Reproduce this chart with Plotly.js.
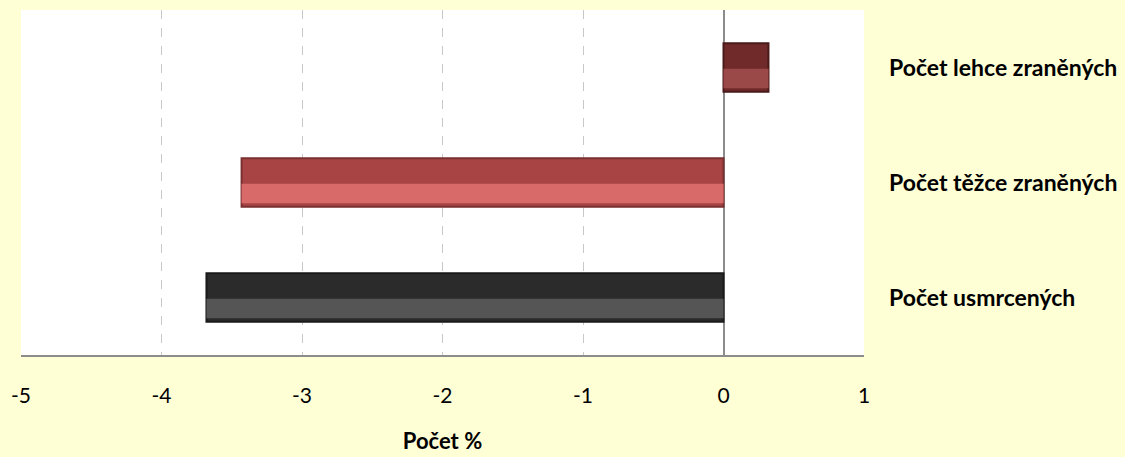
<!DOCTYPE html>
<html><head><meta charset="utf-8">
<script src="https://cdn.plot.ly/plotly-3.0.1.min.js"></script>
<style>html,body{margin:0;padding:0;background:#FFFFD6;}</style>
</head><body>
<div id="chart" style="width:1125px;height:457px;"></div>
<script>
const categories = ["Počet usmrcených", "Počet těžce zraněných", "Počet lehce zraněných"];
const values = [-3.68, -3.43, 0.32];
const barColors = ["#2b2b2b", "#a84444", "#702a2a"];
const highlightColors = ["#555555", "#d86a6a", "#9a4848"];
const edgeColors = ["#1a1a1a", "#7a3030", "#4a1a1a"];
const xTicks = [-5, -4, -3, -2, -1, 0, 1];

const font = "Lato, 'Open Sans', sans-serif";

const traces = [
  {
    type: "bar", orientation: "h", y: categories, x: values,
    width: 0.42,
    marker: {color: barColors, line: {color: edgeColors, width: 2}},
    hoverinfo: "x+y", showlegend: false
  },
  {
    type: "bar", orientation: "h", y: categories, x: values,
    width: 0.17, offset: -0.18,
    marker: {color: highlightColors, line: {width: 0}},
    hoverinfo: "skip", showlegend: false
  }
];

const layout = {
  width: 1125, height: 457,
  paper_bgcolor: "#FFFFD6",
  plot_bgcolor: "#FFFFFF",
  margin: {l: 21, r: 261, t: 10, b: 102},
  barmode: "overlay",
  showlegend: false,
  xaxis: {
    range: [-5, 1],
    tickvals: xTicks,
    ticktext: xTicks.map(String),
    showgrid: true, gridcolor: "#c8c8c8", griddash: "dash", gridwidth: 1,
    zeroline: true, zerolinecolor: "#8c8c8c", zerolinewidth: 2,
    showline: true, linecolor: "#8c8c8c", linewidth: 2,
    ticks: "", ticklabelstandoff: 21,
    tickfont: {family: font, size: 21, color: "#000"},
    title: {text: "<b>Počet %</b>", font: {family: font, size: 22, color: "#000"}, standoff: 27},
    fixedrange: true
  },
  yaxis: {
    type: "category",
    categoryorder: "array", categoryarray: categories,
    side: "right",
    showgrid: false, zeroline: false, showline: false,
    ticks: "", ticklabelstandoff: 24,
    tickfont: {family: font, size: 23, color: "#000", weight: "bold"},
    fixedrange: true
  }
};

Plotly.newPlot("chart", traces, layout, {displayModeBar: false, staticPlot: true});
</script>
</body></html>
